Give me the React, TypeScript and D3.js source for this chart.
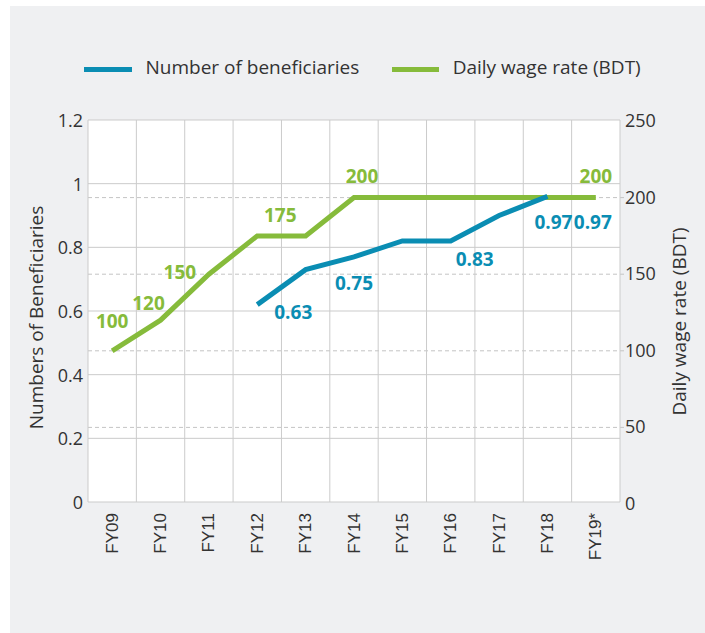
import React from "react";
import * as d3 from "d3";

const categories = ["FY09", "FY10", "FY11", "FY12", "FY13", "FY14", "FY15", "FY16", "FY17", "FY18", "FY19*"];
const beneficiaries: (number | null)[] = [null, null, null, 0.62, 0.73, 0.77, 0.82, 0.82, 0.9, 0.96, null];
const wageRate: number[] = [100, 120, 150, 175, 175, 200, 200, 200, 200, 200, 200];
const leftTicks = [0, 0.2, 0.4, 0.6, 0.8, 1, 1.2];
const rightTicks = [0, 50, 100, 150, 200, 250];
const wageLabels = [
  { cat: "FY09", text: "100" },
  { cat: "FY10", text: "120" },
  { cat: "FY11", text: "150" },
  { cat: "FY12", text: "175" },
  { cat: "FY14", text: "200" },
  { cat: "FY19*", text: "200" },
];
const benLabels = [
  { cat: "FY12", text: "0.63" },
  { cat: "FY14", text: "0.75" },
  { cat: "FY16", text: "0.83" },
  { cat: "FY18", text: "0.97" },
  { cat: "FY19*", text: "0.97" },
];
const seriesNames = ["Number of beneficiaries", "Daily wage rate (BDT)"];

// label placement offsets (layout only)
const wageOffsets = [
  [0, -30], [-12, -17], [-29, -2.5], [23, -21], [8, -22], [0, -22],
];
const benOffsets = [
  [36, 10.4], [0, 20], [24, 21.6], [6, 28.5], [-3, 28.5],
];

const BLUE = "#0a8db3";
const GREEN = "#86bb3b";
const TEXT = "#333333";
const SANS = "'Open Sans', 'Noto Sans', sans-serif";

export default function App() {
  const W = 705, H = 633;
  const left = 88, right = 620, top = 120, bottom = 502;
  const x = d3.scaleBand<string>().domain(categories).range([left, right]).padding(0);
  const yL = d3.scaleLinear().domain([0, 1.2]).range([bottom, top]);
  const yR = d3.scaleLinear().domain([0, 250]).range([504, 121]);
  const cx = (c: string) => (x(c) as number) + x.bandwidth() / 2;

  const greenLine = d3.line<number>()
    .x((_, i) => cx(categories[i]))
    .y((d) => yR(d))(wageRate) as string;
  const blueLine = d3.line<number | null>()
    .defined((d) => d != null)
    .x((_, i) => cx(categories[i]))
    .y((d) => yL(d as number))(beneficiaries) as string;

  const boundaries = categories.map((c) => x(c) as number).concat([right]);

  return (
    <svg width={W} height={H} style={{ position: "absolute", left: 0, top: 0 }}>
      <rect x={10} y={6} width={W - 10} height={H - 6} fill="#eff0f2" />
      <rect x={left} y={top} width={right - left} height={bottom - top} fill="#ffffff" />
      {/* dashed right-axis grid */}
      {rightTicks.filter((t) => t > 0 && t < 250).map((t) => (
        <line key={"rd" + t} x1={left} x2={right + 4} y1={yR(t)} y2={yR(t)} stroke="#c4c4c4" strokeWidth={1} strokeDasharray="4,3" />
      ))}
      {/* solid left-axis grid */}
      {leftTicks.map((t) => (
        <line key={"lg" + t} x1={left} x2={right} y1={yL(t)} y2={yL(t)} stroke="#cbcbcb" strokeWidth={1} />
      ))}
      {boundaries.map((b, i) => (
        <line key={"vg" + i} x1={b} x2={b} y1={top} y2={bottom} stroke="#cbcbcb" strokeWidth={1} />
      ))}
      <path d={greenLine} fill="none" stroke={GREEN} strokeWidth={5} />
      <path d={blueLine} fill="none" stroke={BLUE} strokeWidth={5} />
      {wageLabels.map((l, i) => (
        <text key={"wl" + i} x={cx(l.cat) + wageOffsets[i][0]} y={yR(+l.text) + wageOffsets[i][1]}
          textAnchor="middle" dominantBaseline="central" fill={GREEN}
          fontFamily={SANS} fontWeight={700} fontSize={19}>{l.text}</text>
      ))}
      {benLabels.map((l, i) => (
        <text key={"bl" + i} x={cx(l.cat) + benOffsets[i][0]} y={yL(+l.text) + benOffsets[i][1]}
          textAnchor="middle" dominantBaseline="central" fill={BLUE}
          fontFamily={SANS} fontWeight={700} fontSize={19}>{l.text}</text>
      ))}
      {leftTicks.map((t) => (
        <text key={"lt" + t} x={83} y={yL(t)} textAnchor="end" dominantBaseline="central"
          fill={TEXT} fontFamily={SANS} fontSize={18}>{d3.format("~g")(t)}</text>
      ))}
      {rightTicks.map((t) => (
        <text key={"rt" + t} x={625} y={yR(t) - 1} textAnchor="start" dominantBaseline="central"
          fill={TEXT} fontFamily={SANS} fontSize={18}>{t}</text>
      ))}
      {categories.map((c) => (
        <text key={"xl" + c} transform={`translate(${cx(c)},513) rotate(-90)`} textAnchor="end"
          dominantBaseline="central" fill={TEXT} fontFamily="'Liberation Sans', Arial, sans-serif" fontSize={17}>{c}</text>
      ))}
      <text transform="translate(36,317.5) rotate(-90)" textAnchor="middle" dominantBaseline="central"
        fill={TEXT} fontFamily={SANS} fontSize={19}>Numbers of Beneficiaries</text>
      <text transform="translate(679,321.5) rotate(-90)" textAnchor="middle" dominantBaseline="central"
        fill={TEXT} fontFamily={SANS} fontSize={19}>Daily wage rate (BDT)</text>
      {/* legend */}
      <line x1={84} x2={132} y1={69.5} y2={69.5} stroke={BLUE} strokeWidth={5} />
      <text x={145.5} y={66.7} dominantBaseline="central" fill={TEXT} fontFamily={SANS} fontSize={19}>{seriesNames[0]}</text>
      <line x1={392} x2={439} y1={69.5} y2={69.5} stroke={GREEN} strokeWidth={5} />
      <text x={452.7} y={66.7} dominantBaseline="central" fill={TEXT} fontFamily={SANS} fontSize={19}>{seriesNames[1]}</text>
    </svg>
  );
}
